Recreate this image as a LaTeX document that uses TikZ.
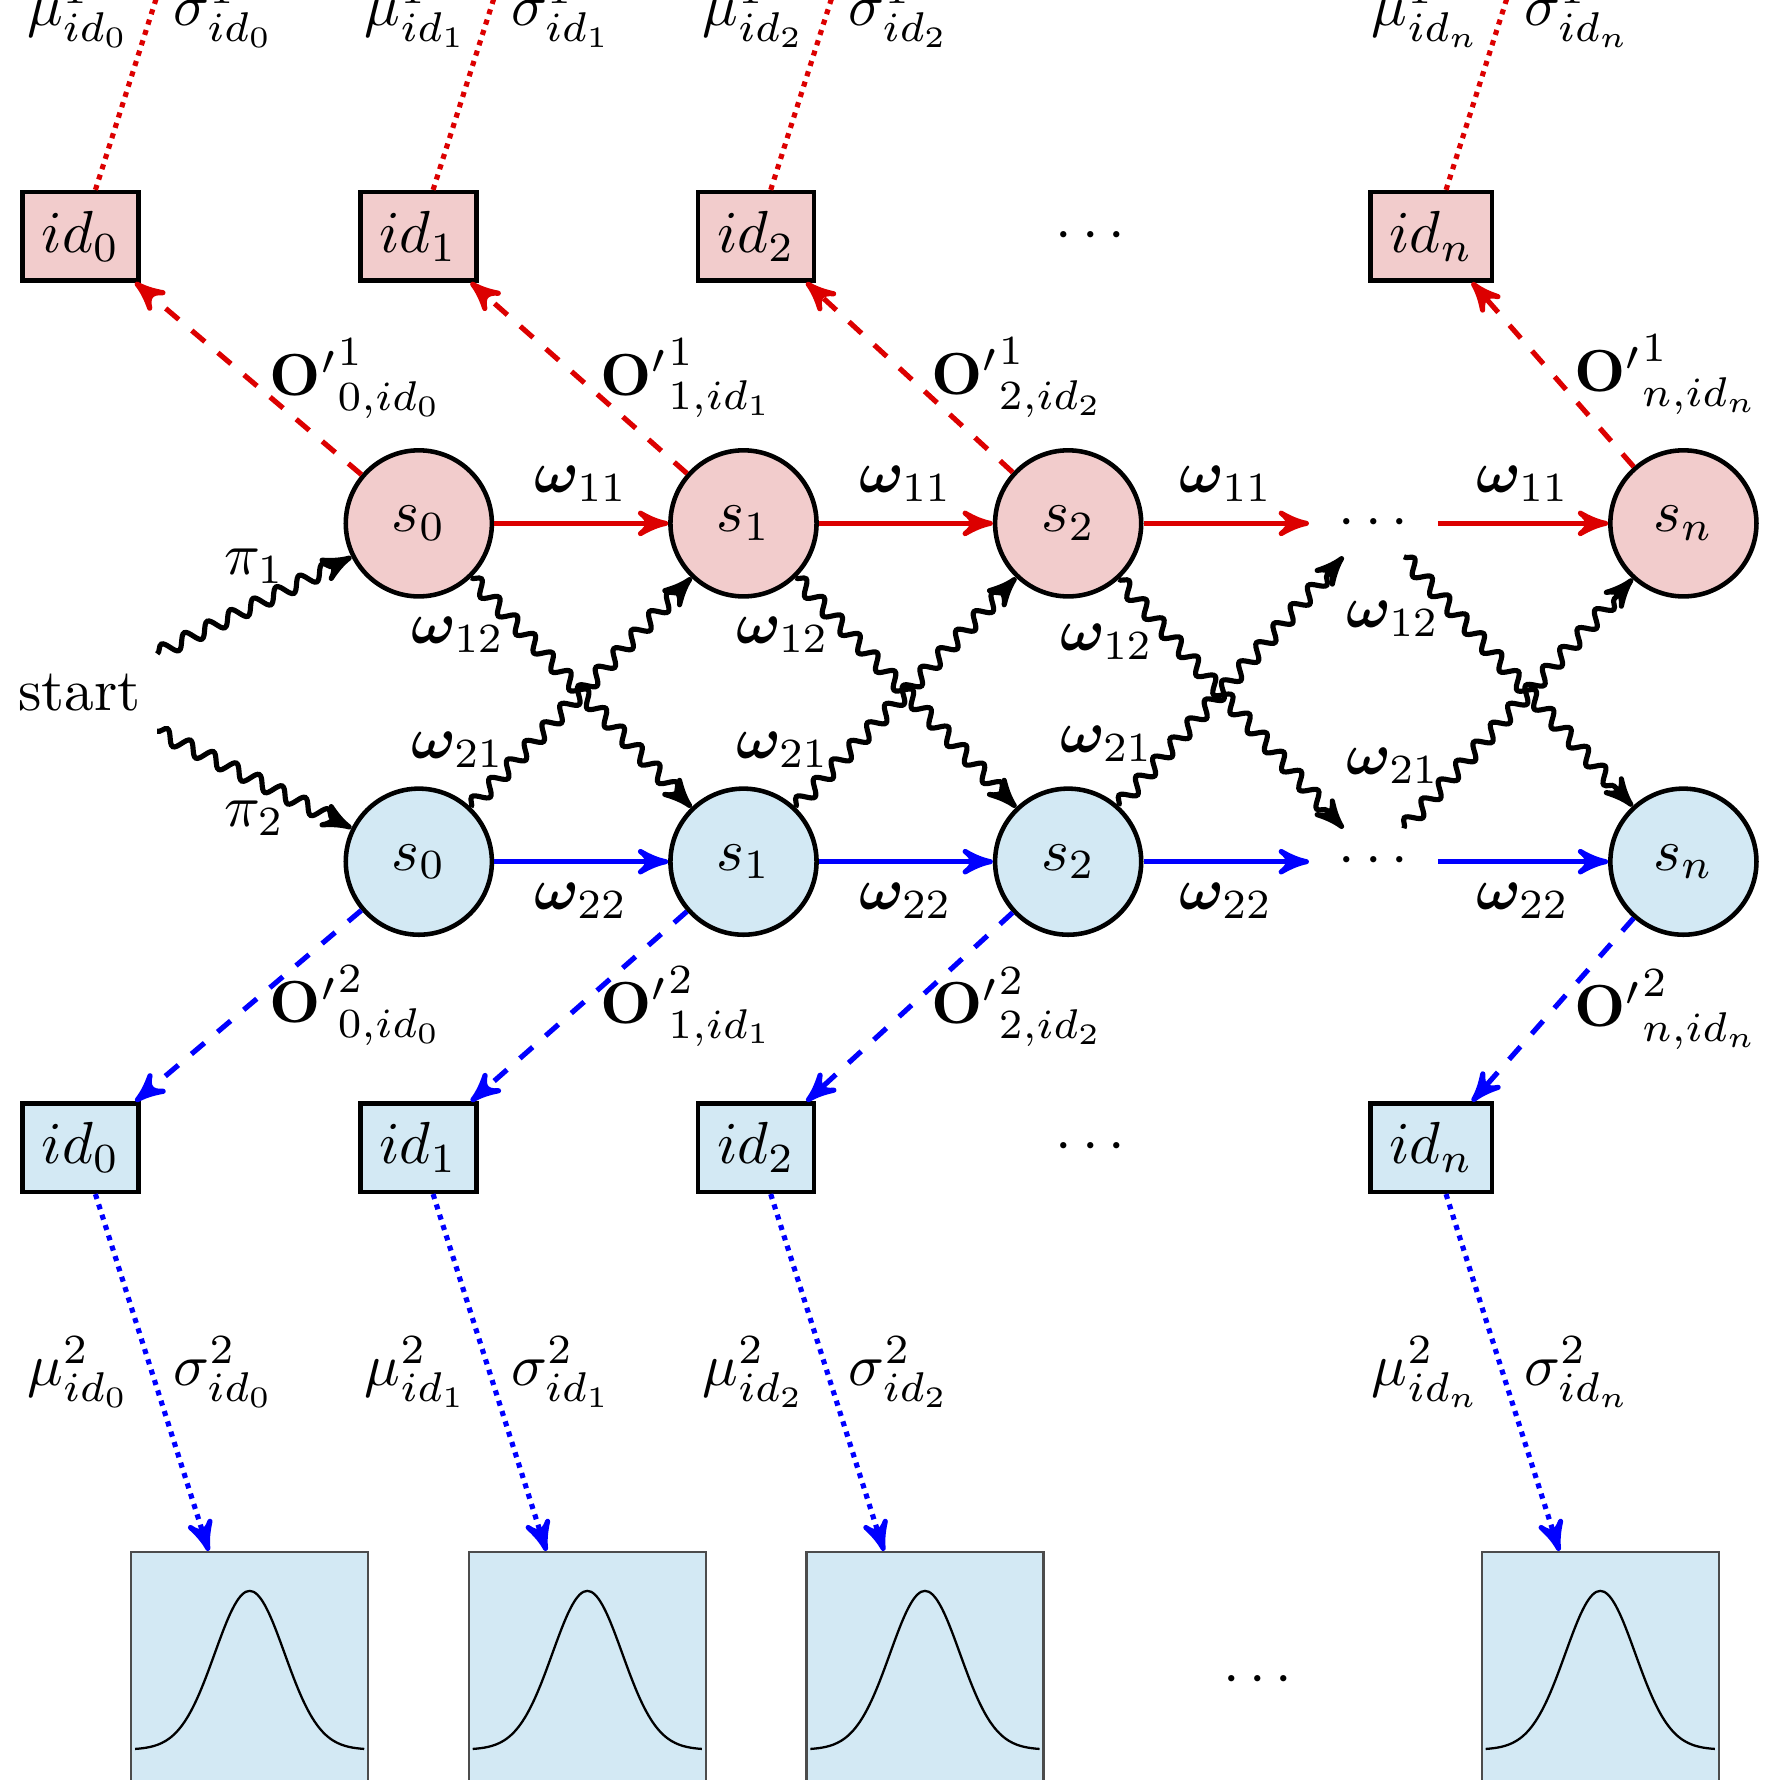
\RequirePackage{fix-cm}
\documentclass[tikz,border=0pt]{standalone}
\usepackage{bm}
\usepackage{tikz}
\usetikzlibrary{shapes,arrows,decorations.pathmorphing}
\definecolor{rosefill}{RGB}{242,204,204}
\definecolor{skyfill}{RGB}{211,233,244}
\definecolor{hmmred}{RGB}{220,0,0}
\tikzstyle{every node} = [font=\fontsize{10.4}{12.5}\selectfont]
\tikzstyle{redstate} = [circle, draw, thick, fill=rosefill, minimum size=0.9cm]
\tikzstyle{bluestate} = [circle, draw, thick, fill=skyfill, minimum size=0.9cm]
\tikzstyle{dotstate} = [minimum width=0.78cm]
\tikzstyle{redid} = [rectangle, draw, thick, fill=rosefill]
\tikzstyle{blueid} = [rectangle, draw, thick, fill=skyfill]
\tikzstyle{gaussbox} = [rectangle, draw=black!70, thin, fill=skyfill,
minimum width=1.46cm, minimum height=1.58cm]
\tikzstyle{redpijl} = [draw=hmmred, line width=0.9pt, -stealth']
\tikzstyle{bluepijl} = [draw=blue, line width=0.9pt, -stealth']
\tikzstyle{wavyline} = [draw, line width=0.9pt, -stealth', decorate,
decoration={snake, amplitude=1.2pt, segment length=4.5pt, post length=3pt}]
\tikzstyle{redobs} = [draw=hmmred, line width=0.9pt, dashed, -stealth']
\tikzstyle{blueobs} = [draw=blue, line width=0.9pt, dashed, -stealth']
\tikzstyle{redparam} = [draw=hmmred, line width=0.9pt, densely dotted, -stealth']
\tikzstyle{blueparam} = [draw=blue, line width=0.9pt, densely dotted, -stealth']

\begin{document}
\begin{tikzpicture}[node distance = 2cm]
	\useasboundingbox (0,0) rectangle (10.965,-10.965);
	\clip (0,0) rectangle (10.965,-10.965);
	
	\node (start) at (0.49,-4.266) {start};
	
	\node [redstate] (r0) at (2.58,-3.224) {$s_0$};
	\node [redstate, right of=r0] (r1) {$s_1$};
	\node [redstate, right of=r1] (r2) {$s_2$};
	\node [dotstate, right of=r2, node distance=1.88cm] (rdots) {$\cdots$};
	\node [redstate, right of=rdots, node distance=1.91cm] (rn) {$s_n$};
	
	\node [bluestate, below of=r0, node distance=2.084cm] (b0) {$s_0$};
	\node [bluestate, below of=r1, node distance=2.084cm] (b1) {$s_1$};
	\node [bluestate, below of=r2, node distance=2.084cm] (b2) {$s_2$};
	\node [dotstate, below of=rdots, node distance=2.084cm] (bdots) {$\cdots$};
	\node [bluestate, below of=rn, node distance=2.084cm] (bn) {$s_n$};
	
	
	\node [redid] (tid0) at (0.497,-1.455) {$id_0$};
	\node [redid, right of=tid0, node distance=2.08cm] (tid1) {$id_1$};
	\node [redid, right of=tid1, node distance=2.08cm] (tid2) {$id_2$};
	\node [right of=tid2, node distance=2.06cm] (tiddots) {$\cdots$};
	\node [redid, right of=tiddots, node distance=2.1cm] (tidn) {$id_n$};
	
	\node [blueid, below of=tid0, node distance=5.615cm] (bid0) {$id_0$};
	\node [blueid, below of=tid1, node distance=5.615cm] (bid1) {$id_1$};
	\node [blueid, below of=tid2, node distance=5.615cm] (bid2) {$id_2$};
	\node [below of=tiddots, node distance=5.615cm] (biddots) {$\cdots$};
	\node [blueid, below of=tidn, node distance=5.615cm] (bidn) {$id_n$};
	
	
	\node [gaussbox] (g0) at (1.538,-10.35) {};
	\node [gaussbox, right of=g0, node distance=2.08cm] (g1) {};
	\node [gaussbox, right of=g1, node distance=2.08cm] (g2) {};
	\node [right of=g2, node distance=2.05cm] (gdots) {$\cdots$};
	\node [gaussbox, right of=gdots, node distance=2.11cm] (gn) {};
	
	
	\path [wavyline] (start) -- node[above] {$\pi_1$} (r0);
	\path [wavyline] (start) -- node[below] {$\pi_2$} (b0);
	
	\foreach \a/\b in {0/1,1/2,2/dots,dots/n} {
		\path [redpijl] (r\a) -- node[above] {$\bm{\omega}_{11}$} (r\b);
		\path [bluepijl] (b\a) -- node[below] {$\bm{\omega}_{22}$} (b\b);
		\path [wavyline] (r\a) -- node[pos=0.25, left] {$\bm{\omega}_{12}$} (b\b);
		\path [wavyline] (b\a) -- node[pos=0.25, left] {$\bm{\omega}_{21}$} (r\b);
	}
	
	
	\foreach \k in {0,1,2,n} {
		\coordinate (top\k) at ([shift={(0.787,2.476)}]tid\k.center);
		\path [redobs] (r\k) -- node[right] {$\mathbf{O'}^{1}_{\k,id_\k}$} (tid\k);
		\path [blueobs] (b\k) -- node[right] {$\mathbf{O'}^{2}_{\k,id_\k}$} (bid\k);
		\path [redparam] (tid\k) -- node[left] {$\mu^1_{id_\k}$} node[right] {$\sigma^1_{id_\k}$} (top\k);
		\path [blueparam] (bid\k) -- node[left] {$\mu^2_{id_\k}$} node[right] {$\sigma^2_{id_\k}$} (g\k);
		\draw [thin, shift={(g\k.center)}] plot [domain=-0.706:0.706, samples=61, smooth]
		(\x, {-0.428+0.978*exp(-1*(\x)*(\x)/0.0925)});
	}
\end{tikzpicture}
\end{document}
